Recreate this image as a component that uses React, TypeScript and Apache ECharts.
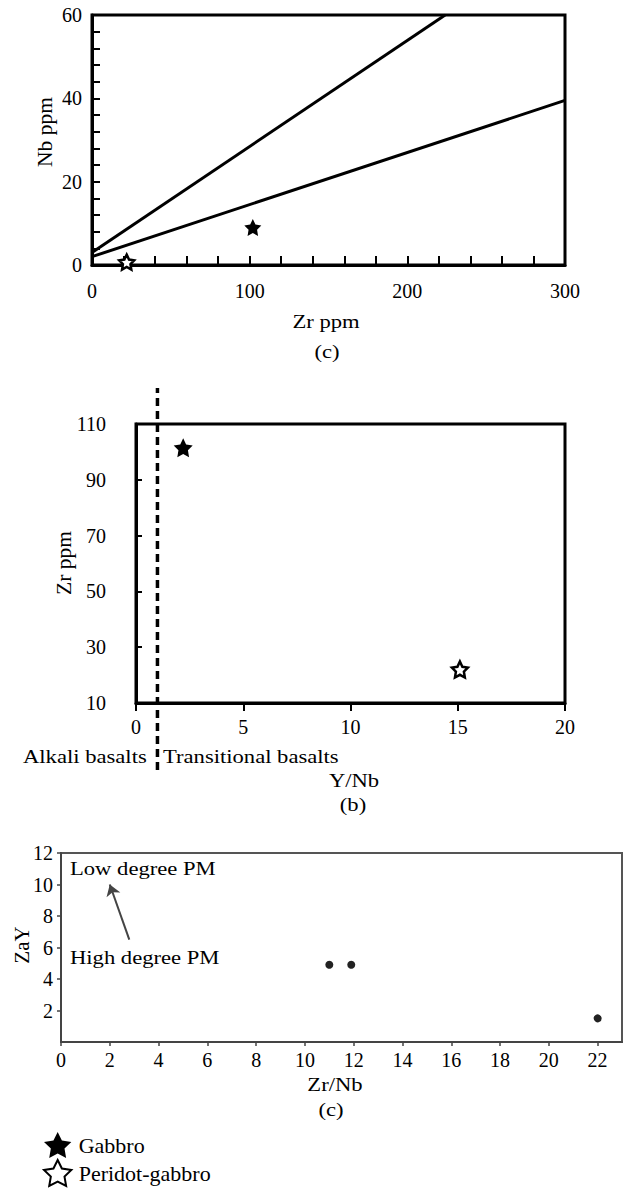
import React, { useEffect, useRef } from 'react';
import * as echarts from 'echarts';

const STAR = 'path://M50,0 L64.69,29.77 L97.55,34.55 L73.78,57.73 L79.39,90.45 L50,75 L20.61,90.45 L26.22,57.73 L2.45,34.55 L35.31,29.77 Z';
const FONT = "'Liberation Serif', 'Times New Roman', serif";

// Panel (c) top: Zr ppm vs Nb ppm
const zrNbSteep = [[0, 3], [224, 60]];
const zrNbShallow = [[0, 2], [300, 39.5]];
const gabbroZrNb = [[102, 9]];
const peridotZrNb = [[22, 0.7]];

// Panel (b): Y/Nb vs Zr ppm
const gabbroYNbZr = [[2.2, 101.5]];
const peridotYNbZr = [[15.1, 22]];
const alkaliBoundary = [[1, 0], [1, 1]];

// Panel (c) bottom: Zr/Nb vs ZaY
const zrNbZaY = [[11, 4.9], [11.9, 4.9], [22, 1.5]];
const pmArrow = [[2.8, 6.5], [2, 10]];

const legendNames = ['Gabbro', 'Peridot-gabbro'];

const gabbroStyle = { color: '#000', opacity: 1 };
const peridotStyle = { color: '#fff', borderColor: '#000', borderWidth: 2.5, opacity: 1 };

export default function App() {
  const ref = useRef<HTMLDivElement>(null);
  useEffect(() => {
    document.body.style.margin = '0';
    const chart = echarts.init(ref.current!, null, { renderer: 'svg' });
    const lbl = { color: '#000', fontFamily: FONT, fontSize: 20 };
    const txt = (x: number, y: number, text: string, opts: any = {}) => ({
      type: 'text', x, y, rotation: opts.rotation || 0,
      scaleX: opts.rotation ? 1 : 1.16,
      style: {
        text, fill: '#000', fontFamily: FONT, fontSize: opts.size || 19.5,
        textAlign: opts.align || 'center', textVerticalAlign: 'middle',
      },
    });
    chart.setOption({
      animation: false,
      textStyle: { fontFamily: FONT },
      grid: [
        { left: 92, top: 15, width: 473, height: 250, show: true, borderColor: '#000', borderWidth: 3 },
        { left: 136, top: 424, width: 429, height: 279, show: true, borderColor: '#000', borderWidth: 3 },
        { left: 61, top: 853, width: 561, height: 189, show: true, borderColor: '#555', borderWidth: 2 },
        { left: 136, top: 388, width: 429, height: 382, show: false },
      ],
      xAxis: [
        {
          gridIndex: 0, type: 'value', min: 0, max: 300, interval: 100,
          axisLine: { lineStyle: { color: '#000', width: 3 } },
          axisTick: { inside: true, length: 9, lineStyle: { width: 2, color: '#000' } },
          minorTick: { show: true, splitNumber: 5, length: 9, lineStyle: { width: 2, color: '#000' } },
          splitLine: { show: false },
          axisLabel: { ...lbl, margin: 16 },
        },
        {
          gridIndex: 1, type: 'value', min: 0, max: 20, interval: 5,
          axisLine: { lineStyle: { color: '#000', width: 3 } },
          axisTick: { inside: false, length: 8, lineStyle: { width: 2, color: '#000' } },
          splitLine: { show: false },
          axisLabel: { ...lbl, margin: 14 },
        },
        {
          gridIndex: 2, type: 'value', min: 0, max: 23, interval: 2,
          axisLine: { lineStyle: { color: '#444', width: 2 } },
          axisTick: { inside: false, length: 4, lineStyle: { width: 1.5, color: '#444' } },
          splitLine: { show: false },
          axisLabel: { ...lbl, margin: 8, showMaxLabel: false },
        },
        { gridIndex: 3, type: 'value', min: 0, max: 20, show: false },
      ],
      yAxis: [
        {
          gridIndex: 0, type: 'value', min: 0, max: 60, interval: 20,
          axisLine: { lineStyle: { color: '#000', width: 3 } },
          axisTick: { inside: true, length: 8, lineStyle: { width: 2, color: '#000' } },
          minorTick: { show: true, splitNumber: 5, length: 8, lineStyle: { width: 2, color: '#000' } },
          splitLine: { show: false },
          axisLabel: { ...lbl, margin: 10 },
        },
        {
          gridIndex: 1, type: 'value', min: 10, max: 110, interval: 20,
          axisLine: { lineStyle: { color: '#000', width: 3 } },
          axisTick: { inside: true, length: 6, lineStyle: { width: 2, color: '#000' } },
          splitLine: { show: false },
          axisLabel: { ...lbl, margin: 30 },
        },
        {
          gridIndex: 2, type: 'value', min: 0, max: 12, interval: 2,
          axisLine: { lineStyle: { color: '#444', width: 2 } },
          axisTick: { inside: false, length: 4, lineStyle: { width: 1.5, color: '#444' } },
          splitLine: { show: false },
          axisLabel: { ...lbl, margin: 8, showMinLabel: false },
        },
        { gridIndex: 3, type: 'value', min: 0, max: 1, show: false },
      ],
      legend: {
        data: legendNames, orient: 'vertical', left: 43, top: 1132, padding: 0,
        itemWidth: 32, itemHeight: 26, itemGap: 1,
        textStyle: { color: '#000', fontFamily: FONT, fontSize: 22 },
        selectedMode: false,
      },
      series: [
        {
          type: 'line', xAxisIndex: 0, yAxisIndex: 0, data: zrNbSteep, symbol: 'none',
          lineStyle: { color: '#000', width: 3 }, silent: true,
        },
        {
          type: 'line', xAxisIndex: 0, yAxisIndex: 0, data: zrNbShallow, symbol: 'none',
          lineStyle: { color: '#000', width: 3 }, silent: true,
        },
        {
          name: 'Gabbro', type: 'scatter', xAxisIndex: 0, yAxisIndex: 0, data: gabbroZrNb,
          symbol: STAR, symbolSize: 17, itemStyle: gabbroStyle,
        },
        {
          name: 'Peridot-gabbro', type: 'scatter', xAxisIndex: 0, yAxisIndex: 0, data: peridotZrNb,
          symbol: STAR, symbolSize: 15, itemStyle: peridotStyle,
        },
        {
          type: 'line', xAxisIndex: 3, yAxisIndex: 3, data: alkaliBoundary, symbol: 'none',
          lineStyle: { color: '#000', width: 3.5, type: [8, 5] }, silent: true,
        },
        {
          name: 'Gabbro', type: 'scatter', xAxisIndex: 1, yAxisIndex: 1, data: gabbroYNbZr,
          symbol: STAR, symbolSize: 19, itemStyle: gabbroStyle,
        },
        {
          name: 'Peridot-gabbro', type: 'scatter', xAxisIndex: 1, yAxisIndex: 1, data: peridotYNbZr,
          symbol: STAR, symbolSize: 16, itemStyle: peridotStyle,
        },
        {
          name: 'samples', type: 'scatter', xAxisIndex: 2, yAxisIndex: 2, data: zrNbZaY,
          symbol: 'circle', symbolSize: 8, itemStyle: { color: '#222', opacity: 1 },
          markLine: {
            silent: true, symbol: ['none', 'arrow'], symbolSize: 11,
            lineStyle: { color: '#444', width: 2, type: 'solid' },
            label: { show: false },
            data: [[{ coord: pmArrow[0] }, { coord: pmArrow[1] }]],
          },
        },
      ],
      graphic: [
        txt(45, 132, 'Nb ppm', { rotation: Math.PI / 2, size: 21.5 }),
        txt(326, 322, 'Zr ppm'),
        txt(327, 352, '(c)'),
        txt(64, 563, 'Zr ppm', { rotation: Math.PI / 2, size: 21.5 }),
        txt(23, 757, 'Alkali basalts', { align: 'left', size: 19.5 }),
        txt(163, 757, 'Transitional basalts', { align: 'left', size: 19.5 }),
        txt(354, 781, 'Y/Nb'),
        txt(353, 805, '(b)'),
        txt(22, 945, 'ZaY', { rotation: Math.PI / 2, size: 21 }),
        txt(70, 869, 'Low degree PM', { align: 'left' }),
        txt(70, 958, 'High degree PM', { align: 'left' }),
        txt(335, 1085, 'Zr/Nb'),
        txt(331, 1110, '(c)'),
      ],
    });
    return () => chart.dispose();
  }, []);
  return <div ref={ref} style={{ width: 624, height: 1189 }} />;
}
